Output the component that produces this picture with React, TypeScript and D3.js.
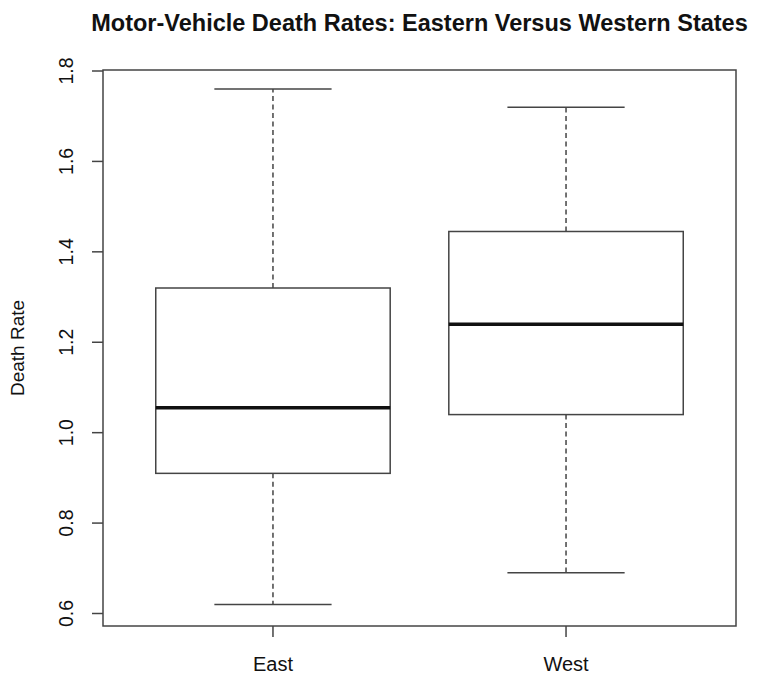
import React from "react";
import * as d3 from "d3";

const categories = ["East", "West"];
const mins = [0.62, 0.69];
const q1s = [0.91, 1.04];
const medians = [1.055, 1.24];
const q3s = [1.32, 1.445];
const maxs = [1.76, 1.72];
const yTicks = [0.6, 0.8, 1.0, 1.2, 1.4, 1.6, 1.8];

const W = 759, H = 674;
const left = 103, right = 736, top = 70, bottom = 626;
const FONT = "'Liberation Sans', Arial, Helvetica, sans-serif";
const STROKE = "#444";

export default function App() {
  const x = d3.scaleLinear().domain([0.42, 2.58]).range([left, right]);
  const y = d3.scaleLinear().domain([0.6, 1.8]).range([613.5, 71]);
  const boxHalf = (x(1.4) - x(1)) ;
  const capHalf = boxHalf / 2;
  return (
    <svg width={W} height={H} style={{ position: "absolute", left: 0, top: 0, background: "#fff" }}>
      <rect x={0} y={0} width={W} height={H} fill="#fff" />
      <text x={(left + right) / 2} y={31} textAnchor="middle" fontFamily={FONT} fontWeight="bold" fontSize={23.5} fill="#111">
        Motor-Vehicle Death Rates: Eastern Versus Western States
      </text>
      {categories.map((c, i) => {
        const cx = x(i + 1);
        return (
          <g key={c}>
            <line x1={cx} x2={cx} y1={y(q3s[i])} y2={y(maxs[i])} stroke={STROKE} strokeWidth={1.5} strokeDasharray="5,3.5" />
            <line x1={cx} x2={cx} y1={y(q1s[i])} y2={y(mins[i])} stroke={STROKE} strokeWidth={1.5} strokeDasharray="5,3.5" />
            <line x1={cx - capHalf} x2={cx + capHalf} y1={y(maxs[i])} y2={y(maxs[i])} stroke={STROKE} strokeWidth={1.5} />
            <line x1={cx - capHalf} x2={cx + capHalf} y1={y(mins[i])} y2={y(mins[i])} stroke={STROKE} strokeWidth={1.5} />
            <rect x={cx - boxHalf} y={y(q3s[i])} width={2 * boxHalf} height={y(q1s[i]) - y(q3s[i])} fill="#fff" stroke={STROKE} strokeWidth={1.5} />
            <line x1={cx - boxHalf} x2={cx + boxHalf} y1={y(medians[i])} y2={y(medians[i])} stroke="#111" strokeWidth={3.5} />
            <line x1={cx} x2={cx} y1={bottom} y2={bottom + 11} stroke={STROKE} strokeWidth={1.5} />
            <text x={cx} y={671} textAnchor="middle" fontFamily={FONT} fontSize={20} fill="#111">{c}</text>
          </g>
        );
      })}
      {yTicks.map((t) => (
        <g key={t}>
          <line x1={left - 11} x2={left} y1={y(t)} y2={y(t)} stroke={STROKE} strokeWidth={1.5} />
          <text transform={`translate(73,${y(t)}) rotate(-90)`} textAnchor="middle" fontFamily={FONT} fontSize={19.5} fill="#111">{t.toFixed(1)}</text>
        </g>
      ))}
      <rect x={left} y={top} width={right - left} height={bottom - top} fill="none" stroke={STROKE} strokeWidth={1.5} />
      <text transform={`translate(24,${(top + bottom) / 2}) rotate(-90)`} textAnchor="middle" fontFamily={FONT} fontSize={19} fill="#111">Death Rate</text>
    </svg>
  );
}
